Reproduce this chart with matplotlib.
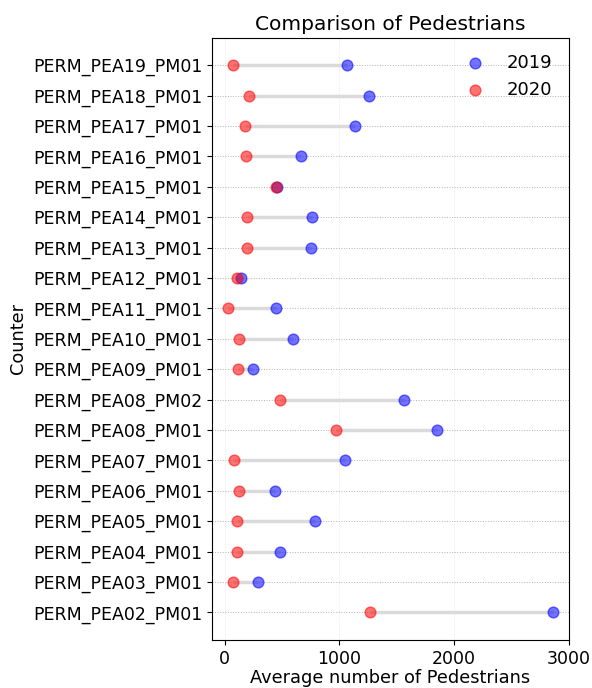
import matplotlib.pyplot as plt

counters = ['PERM_PEA02_PM01', 'PERM_PEA03_PM01', 'PERM_PEA04_PM01', 'PERM_PEA05_PM01',
            'PERM_PEA06_PM01', 'PERM_PEA07_PM01', 'PERM_PEA08_PM01', 'PERM_PEA08_PM02',
            'PERM_PEA09_PM01', 'PERM_PEA10_PM01', 'PERM_PEA11_PM01', 'PERM_PEA12_PM01',
            'PERM_PEA13_PM01', 'PERM_PEA14_PM01', 'PERM_PEA15_PM01', 'PERM_PEA16_PM01',
            'PERM_PEA17_PM01', 'PERM_PEA18_PM01', 'PERM_PEA19_PM01']
avg_2019 = [2865, 288, 480, 786, 443, 1048, 1852, 1560, 245, 594, 445, 140,
            751, 760, 460, 664, 1133, 1258, 1063]
avg_2020 = [1269, 70, 105, 108, 125, 85, 969, 480, 114, 122, 26, 105,
            192, 192, 445, 189, 178, 215, 73]

fig = plt.figure(figsize=(5.92, 6.88), dpi=100)
ax = fig.add_axes([0.358, 0.070, 0.603, 0.875])

ypos = list(range(len(counters)))
ax.hlines(y=ypos, xmin=avg_2020, xmax=avg_2019, color='#dadada', linewidth=2.5, zorder=2)
ax.scatter(avg_2019, ypos, color='blue', alpha=0.55, s=60, label='2019', zorder=3)
ax.scatter(avg_2020, ypos, color='red', alpha=0.55, s=60, label='2020', zorder=3)

ax.set_yticks(ypos)
ax.set_yticklabels(counters)
ax.tick_params(axis='both', labelsize=12.5)
ax.set_xlim(-110, 3000)
ax.set_xticks([0, 1000, 2000, 3000])

ax.grid(axis='y', linestyle=':', color='grey', alpha=0.6, linewidth=0.7)
ax.grid(axis='x', linestyle=':', color='lightgrey', alpha=0.5, linewidth=0.7)
ax.set_axisbelow(True)

ax.set_title('Comparison of Pedestrians', fontsize=14.5)
ax.set_xlabel('Average number of Pedestrians', fontsize=12.8, labelpad=1)
ax.set_ylabel('Counter', fontsize=12.8)
ax.legend(loc='upper right', frameon=False, fontsize=13)

fig.savefig('out.png', dpi=100)
